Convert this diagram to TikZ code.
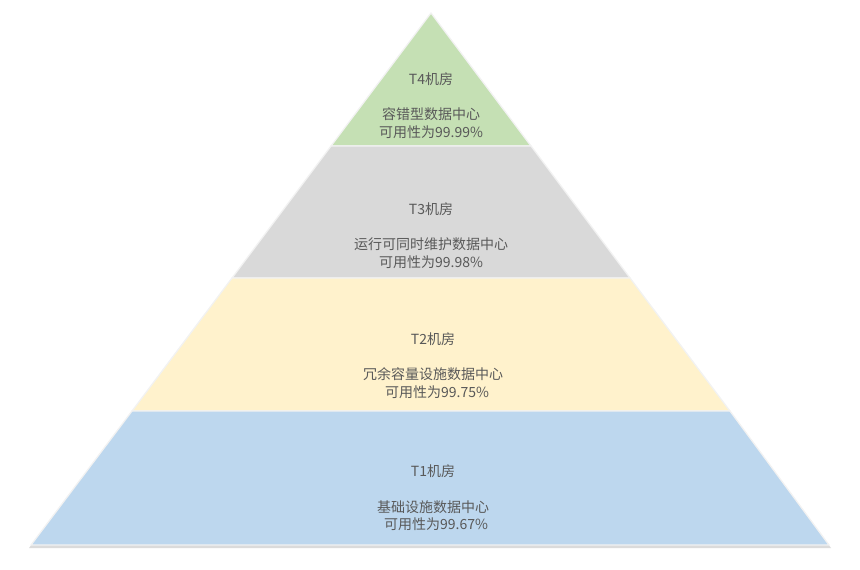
\documentclass[tikz,border=0pt]{standalone}
\usepackage{fontspec}
\setmainfont{Noto Sans CJK SC}
\usetikzlibrary{positioning}
\definecolor{tiergreen}{HTML}{C5E0B4}
\definecolor{tiergray}{HTML}{D9D9D9}
\definecolor{tieryellow}{HTML}{FFF2CC}
\definecolor{tierblue}{HTML}{BDD7EE}
\definecolor{labelgray}{HTML}{595959}

\begin{document}
\begin{tikzpicture}[x=1pt, y=-1pt,
    every node/.style={font=\fontsize{14}{17.5}\selectfont, text=labelgray, align=center},
    layer/.style={draw=white!95!black, line width=1.3pt, line join=round}]
  \useasboundingbox (0,0) rectangle (860,570);
  % soft shadow under the pyramid
  \fill[black!14] (431,16) -- (831,548) -- (29,548) -- cycle;
  % the four tiers, top to bottom
  \filldraw[layer, fill=tiergreen] (431,13) -- (531,146) -- (331,146) -- cycle;
  \filldraw[layer, fill=tiergray] (331,146) -- (531,146) -- (630,278) -- (232,278) -- cycle;
  \filldraw[layer, fill=tieryellow] (232,278) -- (630,278) -- (730,411) -- (132,411) -- cycle;
  \filldraw[layer, fill=tierblue] (132,411) -- (730,411) -- (829,545) -- (31,545) -- cycle;
  % labels
  \node (t4) at (431,105.5) {T4机房\\[18pt]容错型数据中心\\可用性为99.99\%};
  \node (t3) at (431,235.5) {T3机房\\[18pt]运行可同时维护数据中心\\可用性为99.98\%};
  \node (t2) at (433,365.5) {T2机房\\[18pt]冗余容量设施数据中心\\ \hspace*{8pt}可用性为99.75\%};
  \node (t1) at (433,498) {T1机房\\[18pt]基础设施数据中心\\ \hspace*{6pt}可用性为99.67\%};
\end{tikzpicture}
\end{document}
